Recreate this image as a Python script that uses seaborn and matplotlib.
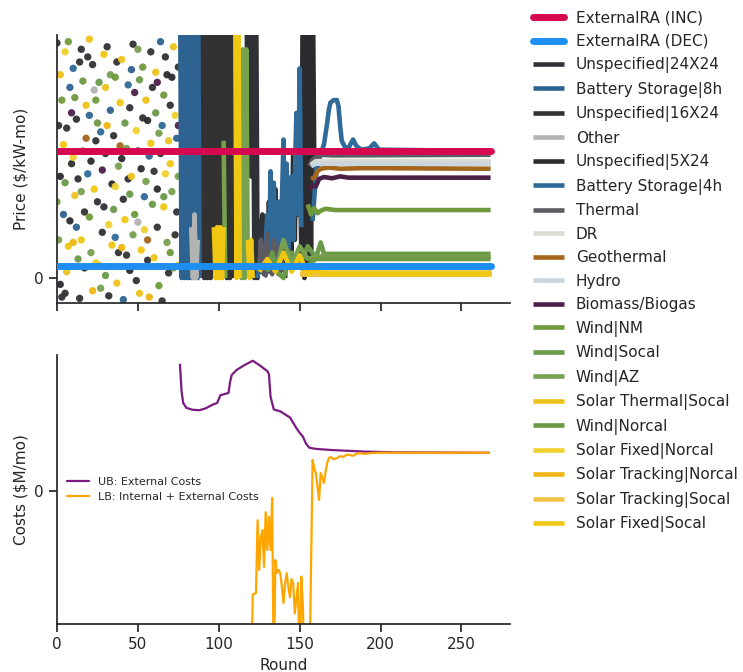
import numpy as np
import matplotlib
matplotlib.use("Agg")
import matplotlib.pyplot as plt
import seaborn as sns

nan = np.nan

# resources (legend order after the two external lines)
resources = ["Unspecified|24X24", "Battery Storage|8h", "Unspecified|16X24", "Other",
             "Unspecified|5X24", "Battery Storage|4h", "Thermal", "DR", "Geothermal",
             "Hydro", "Biomass/Biogas", "Wind|NM", "Wind|Socal", "Wind|AZ",
             "Solar Thermal|Socal", "Wind|Norcal", "Solar Fixed|Norcal",
             "Solar Tracking|Norcal", "Solar Tracking|Socal", "Solar Fixed|Socal"]
res_colors = ["#2f3136", "#2e6391", "#323232", "#b3b3b3", "#2b2b2f", "#2f6a99",
              "#5d5a61", "#dcdbd0", "#a3661c", "#c9d6dd", "#4c1f47", "#6f9a3c",
              "#6a9947", "#77a04f", "#eec21c", "#6d9844", "#f1d12e", "#efb511",
              "#efc445", "#f0c814"]

# external RA prices
ext_rounds = [0, 268]
inc_price = [10.0, 10.0]
dec_price = [0.95, 0.95]

# early rounds: scattered bids
scat_round = [0, 1, 1, 2, 2, 3, 3, 4, 4, 2, 0,
              5, 6, 7, 5, 8, 9, 6, 8, 9, 7, 5,
              10, 11, 12, 13, 10, 14, 12, 11, 13, 14, 10,
              15, 16, 17, 18, 15, 19, 16, 17, 18, 19, 15,
              20, 21, 22, 23, 24, 20, 22, 23, 21, 24, 20,
              25, 26, 27, 28, 29, 25, 27, 28, 26, 29, 24,
              30, 31, 32, 33, 34, 30, 31, 33, 32, 34, 30,
              35, 36, 37, 38, 39, 35, 36, 37, 38, 39, 36,
              40, 41, 42, 43, 44, 40, 42, 43, 41, 44, 40,
              45, 46, 47, 48, 49, 45, 46, 47, 48, 49, 45,
              50, 51, 52, 53, 54, 50, 51, 52, 53, 54, 50,
              55, 56, 57, 58, 59, 55, 56, 57, 58, 59, 56,
              60, 61, 62, 63, 64, 60, 61, 62, 63, 64, 62,
              65, 66, 67, 68, 69, 65, 66, 67, 68, 69, 66,
              70, 71, 72, 73, 74, 70, 71, 72, 73, 74, 70,
              75, 75, 75, 75]
scat_price = [18.5, 12, 3, 16, 8, -1.5, 14, 10.5, 5, -0.5, 6,
              17.8, 11.8, 2.5, 7.5, 15, 9, 0.5, 4.5, 13, 18.6, -1.2,
              16.5, 6.5, 12.5, 1.5, 9.5, 17, 4, 14.2, 7.8, -1.6, 2.8,
              18, 10, 5.2, 13.6, 3, 8.2, 15.5, 0.8, 11, 17.4, 6.8,
              12.8, 2, 16.8, 7, 10.8, 4.8, -1, 14.8, 9.2, 1.2, 18.8,
              6, 15.4, 11.5, 3.6, 17.6, 12.2, -0.8, 8.5, 1, 5.6, 14,
              9.8, 18.2, 4.2, 13.2, 7.4, 0.2, 12, 16, -1.4, 2.6, 15,
              11.2, 3.2, 17, 8.8, 13.8, 5.4, 15.8, -0.4, 2, 10.4, 7.2,
              17.2, 6.2, 12.2, 1.8, 15.2, 9.4, 4.6, 10.2, -1.7, 7.8, 2.4,
              13.4, 8, 18.4, 5, 11.6, 0.6, 16.4, 3.4, 14.6, -0.2, 6.6,
              10, 15.6, 2.2, 12.6, 6.4, 18, -1.2, 8.6, 16.6, 3.8, 4.4,
              14, 1.4, 9.6, 17.8, 5.8, 7.6, 12.4, -1.5, 10.6, 15, 3,
              8.4, 16.2, 4, 11.4, 18.6, 1.6, 13, 7, -0.6, 9.8, 15.4,
              12, 5.6, 17.4, 2.8, 10.8, -1.8, 14.4, 8.2, 16, 0.4, 6.4,
              13.6, 6.8, 18.2, 3.4, 11, 9, 15.8, 0.8, 12.8, 5.2, 2,
              16.6, 8, 1, 12]
scat_res = [0, 2, 13, 14, 4, 0, 11, 19, 1, 4, 13,
            16, 0, 19, 12, 1, 2, 14, 4, 10, 11, 0,
            5, 14, 0, 12, 16, 2, 1, 11, 0, 2, 17,
            0, 12, 2, 14, 19, 5, 15, 4, 8, 0, 13,
            1, 13, 2, 19, 0, 11, 17, 3, 4, 16, 14,
            0, 12, 5, 2, 19, 15, 13, 10, 14, 0, 11,
            2, 0, 16, 1, 4, 12, 17, 13, 0, 19, 14,
            0, 5, 2, 13, 19, 12, 11, 14, 0, 8, 16,
            14, 0, 12, 2, 5, 4, 19, 13, 1, 0, 17,
            0, 14, 2, 11, 16, 4, 1, 13, 10, 0, 12,
            0, 12, 19, 2, 5, 13, 14, 4, 11, 16, 3,
            14, 0, 1, 2, 12, 13, 4, 17, 19, 0, 8,
            2, 14, 0, 13, 1, 19, 12, 4, 11, 0, 10,
            5, 19, 0, 13, 14, 2, 11, 16, 4, 0, 12,
            0, 13, 14, 2, 1, 19, 4, 12, 16, 0, 11,
            2, 13, 19, 10]

# later rounds: price paths per resource
r_u24 = [117, 118, 119, 120, 121, 122, 123, 124, 125, 126, 127, 128, 129, 130, 131, 132, 133, 134, 135,
         136, 137, 138, 139, 140, 145, 150, 155, 158, 160, 170, 268]
v_u24 = [25, 8, 25, 8, 25, 0, 25, 0, 4.5, 0.5, 5, 0.3, 4, 0.5, 6, 1, 5, 0.5, 7, 1, 6, 0.5, 4, 1.5,
         4, 6, 9, 10.0, 10.0, 10.0, 10.0]
r_bat8 = [76, 77, 78, 79, 80, 81, 82, 83, 84, 85, 86, 87, 88, 89, 90, 155, 158, 160, 268]
v_bat8 = [25, 0, 25, 0, 25, 0, 25, 0, 25, 0, 25, 0, 25, 0, nan, 3, 8, 10.0, 10.0]
r_u16 = [90, 91, 92, 93, 94, 95, 96, 97, 98, 99, 100, 101, 102, 103, 104, 105, 106, 107, 108, 109, 110,
         160, 268]
v_u16 = [25, 0, 25, 0, 25, 0, 25, 4, 25, 4, 25, 4, 25, 4, 25, 0, 25, 0, 25, 0, nan, 10.0, 10.0]
r_other = [83, 84, 85, 86, 87, 88, 156, 158, 160, 268]
v_other = [4, 0, 5, 0, 3, nan, 8.5, 9.0, 9.1, 9.1]
r_u5 = [141, 142, 143, 144, 145, 146, 147, 148, 149, 150, 151, 152, 153, 154, 155, 156, 157, 158, 159, 160, 268]
v_u5 = [0, 4, 1, 7, 2, 10, 3, 12, 5, 11, 2, 25, 0, 25, 0.5, 25, 1, 25, 9.5, 10, 10.0]
r_bat4 = [124, 126, 128, 130, 131, 132, 133, 134, 135, 137, 138, 140, 141, 142, 143, 145, 146, 148, 149, 150, 151, 152,
          158, 160, 163, 165, 167, 168, 169, 171, 173, 174, 175, 176, 178, 180, 183, 185, 188, 193, 196, 199, 268]
v_bat4 = [0, 2, 0.5, 5, 1, 8.4, 2, 7.5, 1, 6, 1, 10.9, 3, 9, 2, 8, 3, 13, 5, 16.5, 4, nan,
          4.5, 8, 9.8, 10.5, 12.2, 13.2, 13.8, 14, 14, 13.5, 12, 10.8, 10.3, 10.2, 10.9, 10.4, 10.1,
          10.2, 10.6, 10.1, 10.0]
r_therm = [125, 126, 127, 128, 129, 130, 131, 132, 133, 134, 135, 136, 137, 138, 139, nan,
           156, 158, 160, 163, 170, 268]
v_therm = [0.5, 3, 0.5, 2.5, 0.2, 3.5, 0.5, 2, 0.3, 3, 0.5, 2.5, 0.3, 2, 0.5, nan,
           8.8, 9.3, 9.5, 9.7, 9.65, 9.7]
r_dr = [157, 160, 268]
v_dr = [8.9, 9.2, 9.2]
r_geo = [157, 159, 161, 163, 168, 175, 190, 268]
v_geo = [7.8, 7.9, 8.4, 8.6, 8.7, 8.6, 8.65, 8.6]
r_hydro = [157, 160, 268]
v_hydro = [8.8, 9.0, 9.0]
r_bio = [156, 158, 160, 162, 165, 170, 175, 180, 268]
v_bio = [7.0, 7.3, 7.2, 7.8, 7.95, 7.85, 8.0, 7.9, 7.9]
r_wnm = [155, 157, 159, 161, 163, 166, 172, 268]
v_wnm = [5.8, 5.0, 5.5, 5.1, 5.3, 5.45, 5.35, 5.35]
r_wsocal = [130, 133, 136, 140, 145, 150, 155, 160, 163, 165, 268]
v_wsocal = [0.5, 2, 0.5, 0, 2, 1, 2.5, 1.6, 2.8, 1.9, 1.9]
r_waz = [103, 104, 105, 113, 114, 115, 116, 117, 118, 119, 135, 140, 145, 150, 155, 160, 268]
v_waz = [10.8, 0, nan, 18, 0, 18, 0, 18, 0, nan, 0.5, 3, 1, 2.5, 1.5, 1.7, 1.7]
r_sthermal = [150, 160, 268]
v_sthermal = [0.5, 0.5, 0.5]
r_wnorcal = [155, 160, 268]
v_wnorcal = [1.0, 1.5, 1.5]
r_sfnorcal = [150, 160, 268]
v_sfnorcal = [0.4, 0.4, 0.4]
r_stnorcal = [150, 160, 268]
v_stnorcal = [0.3, 0.3, 0.3]
r_stsocal = [150, 160, 268]
v_stsocal = [0.35, 0.35, 0.35]
r_sfsocal = [97, 98, 99, 100, 101, 102, 103, 104, 110, 111, 112, 113, 114, 118, 119, 120, 121, 122,
             125, 130, 135, 140, 145, 150, 155, 160, 165, 268]
v_sfsocal = [4, 0, 4, 0, 4, 0, 4, nan, 25, 0, 25, 0, nan, 3, 0, 3, 0, nan,
             0.5, 1.5, 0.5, 2, 0.5, 1.8, 0.3, 0.6, 0.3, 0.3]

price_paths = [(r_u24, v_u24), (r_bat8, v_bat8), (r_u16, v_u16), (r_other, v_other),
               (r_u5, v_u5), (r_bat4, v_bat4), (r_therm, v_therm), (r_dr, v_dr),
               (r_geo, v_geo), (r_hydro, v_hydro), (r_bio, v_bio), (r_wnm, v_wnm),
               (r_wsocal, v_wsocal), (r_waz, v_waz), (r_sthermal, v_sthermal),
               (r_wnorcal, v_wnorcal), (r_sfnorcal, v_sfnorcal), (r_stnorcal, v_stnorcal),
               (r_stsocal, v_stsocal), (r_sfsocal, v_sfsocal)]

# bottom panel: cost bounds
ub_rounds = [76, 77, 78, 80, 84, 88, 92, 96, 99, 101, 106, 107, 108, 111, 116, 121, 125, 130, 131, 132,
             134, 138, 141, 144, 146, 148, 150, 152, 154, 156, 160, 170, 180, 190, 210, 267]
ub_costs = [33, 26, 23, 21.7, 21.2, 21.1, 21.6, 22.5, 23.0, 25.0, 25.6, 28.5, 30.3, 31.6, 32.9, 34.0, 32.9,
            31.3, 30.5, 24.6, 21.3, 20.8, 20.0, 19.2, 17.8, 16.4, 15.2, 14.2, 12.3, 11.3, 11.0, 10.7,
            10.5, 10.3, 10.1, 10.0]
lb_rounds = [120, 121, 123, 124, 125, 126, 127, 128, 129, 130, 131, 132, 133, 134, 135, 136, 137, 138, 139,
             140, 141, 142, 143, 144, 145, 146, 147, 148, 149, 150, 151, 152, 153, 155, 156, 158, 159, 160,
             161, 162, 163, 164, 165, 166, 167, 168, 169, 171, 173, 175, 177, 179, 181, 183, 185, 187, 190,
             195, 200, 267]
lb_costs = [-50, -27, -26.6, -7.6, -20.6, -12, -10.2, -19.8, -5.5, -15.4, -6.7, -15.4, -1.8, -50, -18,
            -21.4, -20.6, -21.4, -25, -29.2, -24, -21.4, -25, -27.7, -23, -24, -31.9, -28, -24, -50,
            -22.3, -30, -50, -50, -50, 8.1, 6, 4.7, 1, -2.3, 4.7, 3.5, 2.1, 5, 7.3, 8.5, 8.9, 8.3, 8.6,
            9.1, 8.9, 9.5, 9.4, 9.2, 9.7, 9.9, 9.7, 9.95, 10, 10]

sns.set_theme(style="ticks")
plt.rcParams["font.family"] = ["DejaVu Sans"]

fig = plt.figure(figsize=(7.43, 6.72), dpi=100)
ax1 = fig.add_axes([0.0767, 0.549, 0.6097, 0.399])
ax2 = fig.add_axes([0.0767, 0.0714, 0.6097, 0.4003])

# top: prices
pal = dict(zip(resources, res_colors))
sns.scatterplot(x=scat_round, y=scat_price, hue=[resources[i] for i in scat_res],
                palette=pal, s=28, linewidth=0, alpha=0.95, legend=False, ax=ax1, zorder=2)

handles = []
for name, col, (rr, vv) in zip(resources, res_colors, price_paths):
    h, = ax1.plot(rr, vv, color=col, lw=3.3, label=name, zorder=3, solid_capstyle="butt")
    handles.append(h)
h_inc, = ax1.plot(ext_rounds, inc_price, color="#d6084f", lw=5, zorder=5, label="ExternalRA (INC)")
h_dec, = ax1.plot(ext_rounds, dec_price, color="#1f8ef1", lw=5, zorder=5, label="ExternalRA (DEC)")

ax1.set_xlim(0, 280)
ax1.set_ylim(-1.97, 19.13)
ax1.set_yticks([0])
ax1.set_xticks([0, 50, 100, 150, 200, 250])
ax1.set_xticklabels([])
ax1.set_ylabel("Price (\\$/kW-mo)", fontsize=11)
ax1.tick_params(labelsize=11)
sns.despine(ax=ax1)

fig.legend([h_inc, h_dec] + handles, ["ExternalRA (INC)", "ExternalRA (DEC)"] + resources,
           loc="upper left", bbox_to_anchor=(0.699, 1.005), frameon=False, fontsize=11,
           handlelength=2.0, labelspacing=0.555)

# bottom: costs
sns.lineplot(x=ub_rounds, y=ub_costs, color="#7b1a80", lw=1.6, ax=ax2, label="UB: External Costs")
sns.lineplot(x=lb_rounds, y=lb_costs, color="#ffa500", lw=1.6, ax=ax2, label="LB: Internal + External Costs")
ax2.set_xlim(0, 280)
ax2.set_ylim(-34.7, 35.5)
ax2.set_yticks([0])
ax2.set_xticks([0, 50, 100, 150, 200, 250])
ax2.set_xlabel("Round", fontsize=11)
ax2.set_ylabel("Costs (\\$M/mo)", fontsize=11)
ax2.tick_params(labelsize=11)
ax2.legend(loc="center left", bbox_to_anchor=(0.0, 0.5), frameon=False, fontsize=8)
sns.despine(ax=ax2)

fig.savefig("out.png", dpi=100)
